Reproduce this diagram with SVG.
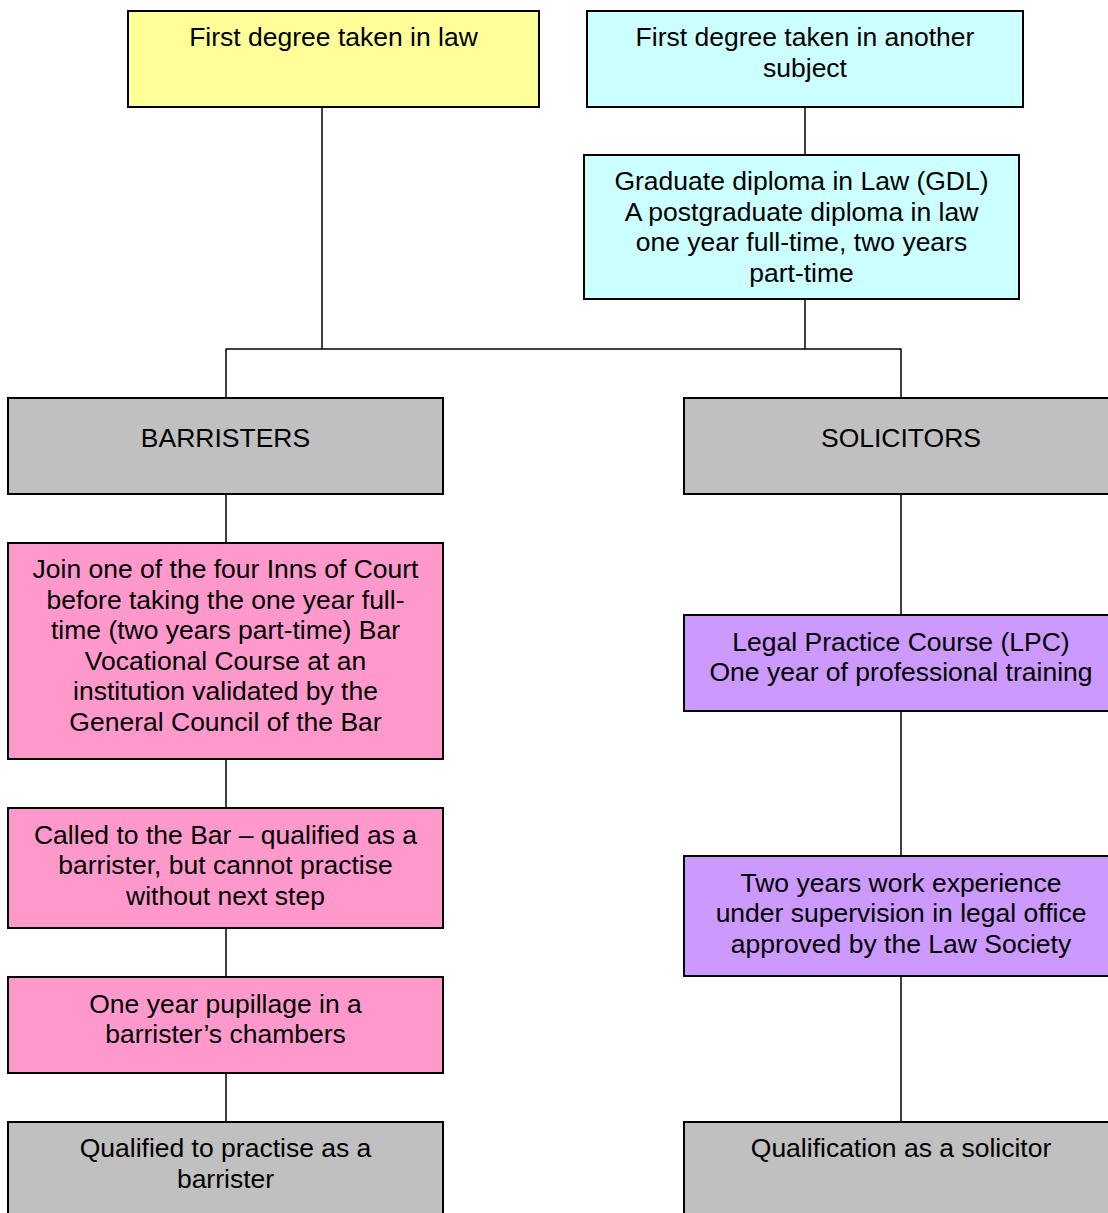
<svg xmlns="http://www.w3.org/2000/svg" width="1108" height="1213" viewBox="0 0 1108 1213">
<style>
.box{stroke:#000;stroke-width:2}
.yel{fill:#FFFF99}
.cyan{fill:#CCFFFF}
.grey{fill:#C0C0C0}
.pink{fill:#FF99CC}
.purp{fill:#CC99FF}
text{font-family:"Liberation Sans",Arial,sans-serif;font-size:26.5px;fill:#000;text-anchor:middle}
.conn line{stroke:#000;stroke-width:1.5}
</style>
<rect width="1108" height="1213" fill="#fff"/>
<g class="conn" id="connectors">
<line x1="322" y1="107" x2="322" y2="349"/>
<line x1="805" y1="107" x2="805" y2="155"/>
<line x1="805" y1="299" x2="805" y2="349"/>
<line x1="225.5" y1="349" x2="901.5" y2="349"/>
<line x1="226" y1="349" x2="226" y2="398"/>
<line x1="901" y1="349" x2="901" y2="398"/>
<line x1="226" y1="494" x2="226" y2="543"/>
<line x1="226" y1="759" x2="226" y2="808"/>
<line x1="226" y1="928" x2="226" y2="977"/>
<line x1="226" y1="1073" x2="226" y2="1122"/>
<line x1="901" y1="494" x2="901" y2="615"/>
<line x1="901" y1="711" x2="901" y2="856"/>
<line x1="901" y1="976" x2="901" y2="1122"/>
</g>
<g id="law">
<rect class="box yel" x="128" y="11" width="411" height="96"/>
<text x="333.5" y="46">First degree taken in law</text>
</g>
<g id="other">
<rect class="box cyan" x="587" y="11" width="436" height="96"/>
<text x="805" y="46">First degree taken in another</text>
<text x="805" y="77">subject</text>
</g>
<g id="gdl">
<rect class="box cyan" x="584" y="155" width="435" height="144"/>
<text x="801.5" y="190">Graduate diploma in Law (GDL)</text>
<text x="801.5" y="221">A postgraduate diploma in law</text>
<text x="801.5" y="251">one year full-time, two years</text>
<text x="801.5" y="282">part-time</text>
</g>
<g id="barristers">
<rect class="box grey" x="8" y="398" width="435" height="96"/>
<text x="225.5" y="447">BARRISTERS</text>
</g>
<g id="solicitors">
<rect class="box grey" x="684" y="398" width="436" height="96"/>
<text x="901" y="447">SOLICITORS</text>
</g>
<g id="inns">
<rect class="box pink" x="8" y="543" width="435" height="216"/>
<text x="225.5" y="578">Join one of the four Inns of Court</text>
<text x="225.5" y="609">before taking the one year full-</text>
<text x="225.5" y="639">time (two years part-time) Bar</text>
<text x="225.5" y="670">Vocational Course at an</text>
<text x="225.5" y="700">institution validated by the</text>
<text x="225.5" y="731">General Council of the Bar</text>
</g>
<g id="called">
<rect class="box pink" x="8" y="808" width="435" height="120"/>
<text x="225.5" y="844">Called to the Bar – qualified as a</text>
<text x="225.5" y="874">barrister, but cannot practise</text>
<text x="225.5" y="905">without next step</text>
</g>
<g id="pupillage">
<rect class="box pink" x="8" y="977" width="435" height="96"/>
<text x="225.5" y="1013">One year pupillage in a</text>
<text x="225.5" y="1043">barrister’s chambers</text>
</g>
<g id="qualbar">
<rect class="box grey" x="8" y="1122" width="435" height="100"/>
<text x="225.5" y="1157">Qualified to practise as a</text>
<text x="225.5" y="1188">barrister</text>
</g>
<g id="lpc">
<rect class="box purp" x="684" y="615" width="436" height="96"/>
<text x="901" y="651">Legal Practice Course (LPC)</text>
<text x="901" y="681">One year of professional training</text>
</g>
<g id="work">
<rect class="box purp" x="684" y="856" width="436" height="120"/>
<text x="901" y="892">Two years work experience</text>
<text x="901" y="922">under supervision in legal office</text>
<text x="901" y="953">approved by the Law Society</text>
</g>
<g id="qualsol">
<rect class="box grey" x="684" y="1122" width="436" height="100"/>
<text x="901" y="1157">Qualification as a solicitor</text>
</g>
</svg>
